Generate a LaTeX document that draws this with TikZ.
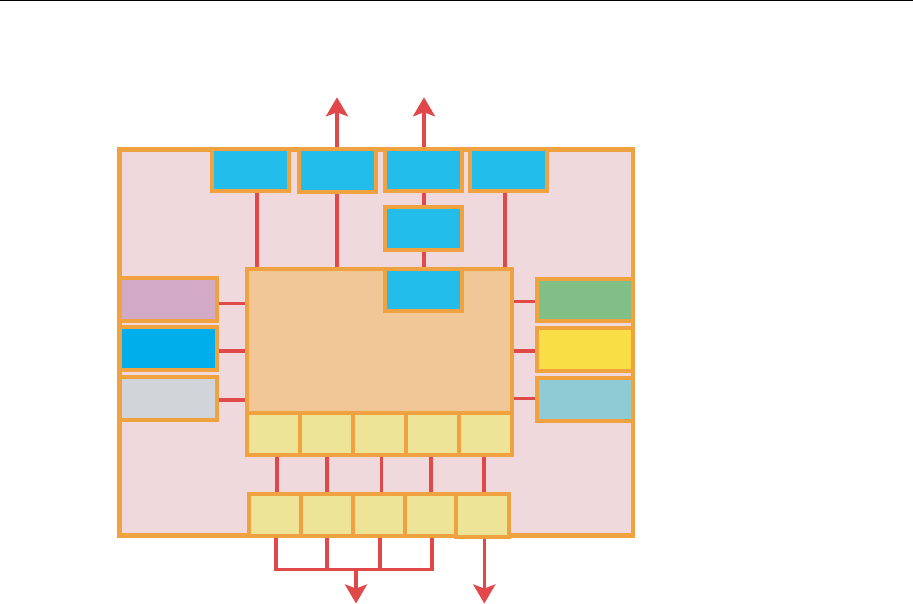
\documentclass[tikz,border=0pt]{standalone}
\usetikzlibrary{arrows.meta}
\definecolor{bor}{HTML}{EFA23F}
\definecolor{wred}{HTML}{E0484A}
\definecolor{pinkbg}{HTML}{F0D9DD}
\definecolor{tblue}{HTML}{22BDEB}
\definecolor{cenfill}{HTML}{F1C797}
\definecolor{cell}{HTML}{EDE498}
\definecolor{lpurple}{HTML}{D3AAC6}
\definecolor{dblue}{HTML}{00AEEC}
\definecolor{lgray}{HTML}{D1D5D9}
\definecolor{rgreen}{HTML}{82BF86}
\definecolor{ryellow}{HTML}{FADE46}
\definecolor{rlblue}{HTML}{8FCBD4}
\pgfdeclarelayer{back}
\pgfdeclarelayer{mid}
\pgfsetlayers{back,mid,main}
\begin{document}
\begin{tikzpicture}[x=1pt,y=-1pt,
  box/.style={draw=bor,line width=4pt,inner sep=0pt,outer sep=0pt},
  wire/.style={draw=wred,line width=3.6pt},
  outarrow/.style={wire,-{Stealth[length=19pt,width=22pt,inset=4pt]}}]
\useasboundingbox (0,0) rectangle (913,604);
\draw[line width=1.5pt] (0,0.75) -- (913,0.75);
% named helper coordinates
\coordinate (u1) at (257,0);
\coordinate (u2) at (337,0);
\coordinate (u3) at (424,0);
\coordinate (u4) at (505,0);
\coordinate (arrT) at (0,97.3);
\coordinate (h1) at (0,303.3);
\coordinate (h2) at (0,350.7);
\coordinate (h3) at (0,399.7);
\coordinate (r1) at (0,301.3);
\coordinate (r2) at (0,351);
\coordinate (r3) at (0,398.3);
\coordinate (v1) at (277,0);
\coordinate (v2) at (327,0);
\coordinate (v3) at (381.5,0);
\coordinate (v4) at (431,0);
\coordinate (v5) at (484,0);
\coordinate (w1) at (276,0);
\coordinate (w2) at (327,0);
\coordinate (w3) at (380,0);
\coordinate (w4) at (432,0);
\coordinate (w5) at (484.3,0);
\coordinate (bus) at (356,569.5);
\coordinate (arrB) at (0,603.5);
% outer board
\begin{pgfonlayer}{back}
\node[box,line width=4.5pt,fill=pinkbg,minimum width=513.3pt,minimum height=386pt] (outer) at (376.2,342.5) {};
\end{pgfonlayer}
% central block
\node[box,fill=cenfill,minimum width=264.7pt,minimum height=186.3pt] (cen) at (379.3,362.2) {};
% top blue boxes
\node[box,fill=tblue,minimum width=76.7pt,minimum height=41.7pt] (t1) at (250.3,170) {};
\node[box,fill=tblue,minimum width=76.4pt,minimum height=42.4pt] (t2) at (337.5,170.4) {};
\node[box,fill=tblue,minimum width=76.7pt,minimum height=41.7pt] (t3) at (423.3,170) {};
\node[box,fill=tblue,minimum width=76.7pt,minimum height=41.7pt] (t4) at (508.3,170) {};
\node[box,fill=tblue,minimum width=76.7pt,minimum height=42.7pt] (m1) at (423.3,228.3) {};
\node[box,fill=tblue,minimum width=76.7pt,minimum height=41.7pt] (m2) at (423.3,289.8) {};
% left boxes
\node[box,fill=lpurple,minimum width=97pt,minimum height=42.7pt] (lp) at (168.5,299.3) {};
\node[box,fill=dblue,minimum width=97pt,minimum height=43pt] (lb) at (168.5,348.5) {};
\node[box,fill=lgray,minimum width=97pt,minimum height=42.4pt] (lg) at (168.5,398.5) {};
% right boxes
\node[box,fill=rgreen,minimum width=96pt,minimum height=42.3pt] (rg) at (585,300.2) {};
\node[box,fill=ryellow,minimum width=96pt,minimum height=42.7pt] (ry) at (585,349.3) {};
\node[box,fill=rlblue,minimum width=96pt,minimum height=42.7pt] (rl) at (585,399.3) {};
% cells in central block
\node[box,fill=cell,minimum width=52.94pt,minimum height=42.3pt] (c1) at (273.47,434.15) {};
\node[box,fill=cell,minimum width=52.94pt,minimum height=42.3pt] (c2) at (326.41,434.15) {};
\node[box,fill=cell,minimum width=52.94pt,minimum height=42.3pt] (c3) at (379.35,434.15) {};
\node[box,fill=cell,minimum width=52.94pt,minimum height=42.3pt] (c4) at (432.29,434.15) {};
\node[box,fill=cell,minimum width=52.94pt,minimum height=42.3pt] (c5) at (485.23,434.15) {};
% bottom row
\node[box,fill=cell,minimum width=52pt,minimum height=41.7pt] (b1) at (275,514.85) {};
\node[box,fill=cell,minimum width=52pt,minimum height=41.7pt] (b2) at (327,514.85) {};
\node[box,fill=cell,minimum width=51.5pt,minimum height=41.7pt] (b3) at (378.75,514.85) {};
\node[box,fill=cell,minimum width=51.5pt,minimum height=41.7pt] (b4) at (430.25,514.85) {};
\node[box,fill=cell,minimum width=52.7pt,minimum height=43pt] (b5) at (482.35,515.5) {};
% connectors
\begin{pgfonlayer}{mid}
\draw[outarrow] (t2.north -| u2) -- (arrT -| u2);
\draw[outarrow] (t3.north -| u3) -- (arrT -| u3);
\draw[wire] (t1.south -| u1) -- (cen.north -| u1);
\draw[wire] (t2.south -| u2) -- (cen.north -| u2);
\draw[wire] (t3.south -| u3) -- (m1.north -| u3);
\draw[wire] (m1.south -| u3) -- (m2.north -| u3);
\draw[wire] (t4.south -| u4) -- (cen.north -| u4);
\draw[wire] (lp.east |- h1) -- (cen.west |- h1);
\draw[wire] (lb.east |- h2) -- (cen.west |- h2);
\draw[wire] (lg.east |- h3) -- (cen.west |- h3);
\draw[wire] (cen.east |- r1) -- (rg.west |- r1);
\draw[wire] (cen.east |- r2) -- (ry.west |- r2);
\draw[wire] (cen.east |- r3) -- (rl.west |- r3);
\draw[wire] (c1.south -| v1) -- (b1.north -| v1);
\draw[wire] (c2.south -| v2) -- (b2.north -| v2);
\draw[wire] (c3.south -| v3) -- (b3.north -| v3);
\draw[wire] (c4.south -| v4) -- (b4.north -| v4);
\draw[wire] (c5.south -| v5) -- (b5.north -| v5);
\draw[wire] (b1.south -| w1) |- (bus -| w4) -- (b4.south -| w4);
\draw[wire] (b2.south -| w2) -- (bus -| w2);
\draw[wire] (b3.south -| w3) -- (bus -| w3);
\draw[outarrow] (bus) -- (bus |- arrB);
\draw[outarrow] (b5.south -| w5) -- (arrB -| w5);
\end{pgfonlayer}
\end{tikzpicture}
\end{document}
